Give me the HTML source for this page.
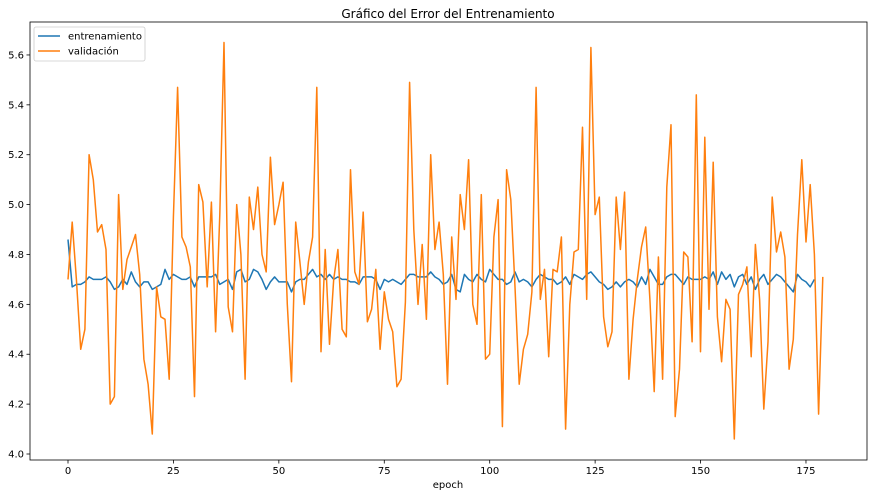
<!DOCTYPE html>
<html><head><meta charset="utf-8"><style>
body{margin:0;background:#fff;font-family:"Liberation Sans","DejaVu Sans",sans-serif;}
svg text{font-family:"DejaVu Sans","Liberation Sans",sans-serif;}
</style></head><body>
<svg id="chart" width="874" height="496" xmlns="http://www.w3.org/2000/svg">
<rect width="874" height="496" fill="#fff"/>
<text x="448" y="18" font-size="12" text-anchor="middle" fill="#000">Gráfico del Error del Entrenamiento</text>
<g id="ticks"></g>
<g id="lines"></g>
<rect x="30" y="22" width="837" height="438" fill="none" stroke="#000" stroke-width="0.8"/>
<text x="448" y="488" font-size="10" text-anchor="middle">epoch</text>
<g>
<rect x="34" y="27" width="111" height="34" rx="2" fill="#fff" stroke="#ccc" stroke-width="0.8"/>
<g><line x1="38" y1="36" x2="60" y2="36" stroke="#1f77b4" stroke-width="1.5"/><text x="68" y="39.5" font-size="10">entrenamiento</text></g>
<g><line x1="38" y1="51" x2="60" y2="51" stroke="#ff7f0e" stroke-width="1.5"/><text x="68" y="54.5" font-size="10">validación</text></g>
</g>
</svg>
<script>
const xTicks=[0,25,50,75,100,125,150,175];
const yTicks=[4.0,4.2,4.4,4.6,4.8,5.0,5.2,5.4,5.6];
const validacion=[4.70,4.93,4.70,4.42,4.50,5.20,5.10,4.89,4.92,4.82,4.20,4.23,5.04,4.66,4.78,4.83,4.88,4.72,4.38,4.28,4.08,4.67,4.55,4.54,4.30,4.95,5.47,4.87,4.83,4.75,4.23,5.08,5.01,4.67,5.01,4.49,4.96,5.65,4.59,4.49,5.00,4.80,4.30,5.03,4.90,5.07,4.80,4.73,5.19,4.92,5.00,5.09,4.60,4.29,4.93,4.77,4.60,4.77,4.87,5.47,4.41,4.82,4.44,4.70,4.82,4.50,4.47,5.14,4.73,4.68,4.97,4.53,4.58,4.74,4.42,4.65,4.54,4.49,4.27,4.30,4.61,5.49,4.90,4.60,4.84,4.54,5.20,4.82,4.93,4.72,4.28,4.87,4.62,5.04,4.90,5.18,4.60,4.52,5.04,4.38,4.40,4.87,5.02,4.11,5.14,5.02,4.67,4.28,4.42,4.48,4.65,5.47,4.62,4.74,4.39,4.74,4.73,4.87,4.10,4.60,4.81,4.82,5.31,4.62,5.63,4.96,5.03,4.55,4.43,4.49,5.03,4.82,5.05,4.30,4.54,4.70,4.83,4.91,4.62,4.25,4.79,4.30,5.07,5.32,4.15,4.34,4.81,4.79,4.45,5.44,4.41,5.27,4.58,5.17,4.55,4.37,4.62,4.58,4.06,4.64,4.68,4.75,4.39,4.84,4.62,4.18,4.45,5.03,4.81,4.89,4.79,4.34,4.46,4.88,5.18,4.85,5.08,4.80,4.16,4.71];
const entrenamiento=[4.86,4.67,4.68,4.68,4.69,4.71,4.70,4.70,4.70,4.71,4.69,4.66,4.67,4.70,4.68,4.73,4.69,4.67,4.69,4.69,4.66,4.67,4.68,4.74,4.70,4.72,4.71,4.70,4.70,4.71,4.67,4.71,4.71,4.71,4.71,4.72,4.68,4.69,4.70,4.66,4.73,4.74,4.69,4.70,4.74,4.73,4.70,4.66,4.69,4.71,4.69,4.69,4.69,4.65,4.69,4.70,4.70,4.72,4.74,4.71,4.72,4.70,4.72,4.70,4.71,4.70,4.70,4.69,4.69,4.68,4.71,4.71,4.71,4.70,4.66,4.70,4.69,4.70,4.69,4.68,4.70,4.72,4.72,4.71,4.71,4.71,4.73,4.71,4.70,4.68,4.69,4.72,4.66,4.65,4.72,4.70,4.69,4.72,4.70,4.69,4.74,4.72,4.70,4.70,4.68,4.69,4.73,4.69,4.70,4.69,4.67,4.70,4.72,4.71,4.70,4.70,4.68,4.69,4.71,4.68,4.72,4.71,4.70,4.72,4.73,4.71,4.69,4.68,4.66,4.67,4.69,4.67,4.69,4.70,4.69,4.67,4.71,4.68,4.74,4.71,4.68,4.68,4.71,4.72,4.72,4.70,4.68,4.71,4.70,4.70,4.70,4.71,4.70,4.73,4.68,4.73,4.70,4.72,4.67,4.71,4.72,4.68,4.71,4.66,4.70,4.72,4.68,4.70,4.72,4.71,4.69,4.67,4.65,4.72,4.70,4.69,4.67,4.70];
const NS='http://www.w3.org/2000/svg';
function xPos(v){return 68+v*4.217;}
function yPos(v){return 454-(v-4.0)*249.4;}
const tg=document.getElementById('ticks');
xTicks.forEach(t=>{
 const l=document.createElementNS(NS,'line');
 
 
 l.setAttribute('x1',xPos(t));l.setAttribute('x2',xPos(t));l.setAttribute('y1',460);l.setAttribute('y2',463.5);l.setAttribute('stroke','#000');l.setAttribute('stroke-width','0.8');tg.appendChild(l);
 const s=document.createElementNS(NS,'text');
 
 
 s.setAttribute('x',xPos(t));s.setAttribute('y',474);s.setAttribute('font-size','10');s.setAttribute('text-anchor','middle');s.textContent=t;tg.appendChild(s);
});
yTicks.forEach(t=>{
 const l=document.createElementNS(NS,'line');
 
 
 l.setAttribute('x1',26.5);l.setAttribute('x2',30);l.setAttribute('y1',yPos(t));l.setAttribute('y2',yPos(t));l.setAttribute('stroke','#000');l.setAttribute('stroke-width','0.8');tg.appendChild(l);
 const s=document.createElementNS(NS,'text');
 
 
 s.setAttribute('x',24);s.setAttribute('y',yPos(t)+3.5);s.setAttribute('font-size','10');s.setAttribute('text-anchor','end');s.textContent=t.toFixed(1);tg.appendChild(s);
});
const lg=document.getElementById('lines');
function drawLine(arr,color,name){
 const p=document.createElementNS(NS,'polyline');
 
 
 p.setAttribute('points',arr.map((v,i)=>xPos(i).toFixed(1)+','+yPos(v).toFixed(1)).join(' '));
 p.setAttribute('fill','none');p.setAttribute('stroke',color);p.setAttribute('stroke-width','1.5');p.setAttribute('stroke-linejoin','round');
 lg.appendChild(p);
}
drawLine(entrenamiento,'#1f77b4','entrenamiento-line');
drawLine(validacion,'#ff7f0e','validacion-line');
</script>
</body></html>
